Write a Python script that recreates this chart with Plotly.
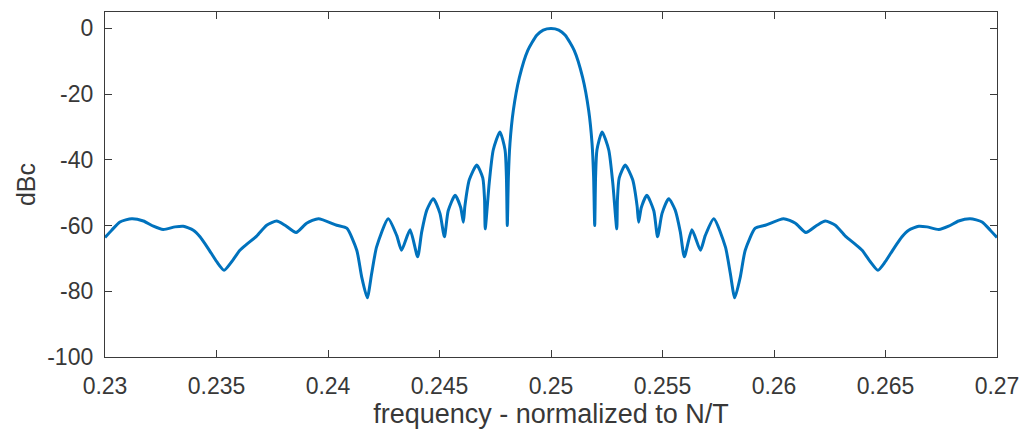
import plotly.graph_objects as go

# frequency (normalized to N/T) and level (dBc)
freq = [
    0.23000, 0.23030, 0.23067, 0.23120, 0.23172, 0.23217, 0.23261, 0.23314, 0.23351, 0.23396,
    0.23426, 0.23463, 0.23501, 0.23534, 0.23568, 0.23605, 0.23635, 0.23680, 0.23725, 0.23770,
    0.23807, 0.23857, 0.23904, 0.23957, 0.24039, 0.24084, 0.24129, 0.24151, 0.24176, 0.24196,
    0.24218, 0.24270, 0.24308, 0.24330, 0.24368, 0.24402, 0.24420, 0.24443, 0.24472, 0.24502,
    0.24522, 0.24539, 0.24570, 0.24595, 0.24607, 0.24614, 0.24634, 0.24667, 0.24694, 0.24702,
    0.24705, 0.24723, 0.24741, 0.24771, 0.24794, 0.24800, 0.24804, 0.24809, 0.24816, 0.24831,
    0.24858, 0.24896, 0.24936, 0.24965, 0.25000,
    0.25035, 0.25064, 0.25104, 0.25142, 0.25169, 0.25184, 0.25191, 0.25196, 0.25200, 0.25206,
    0.25229, 0.25259, 0.25277, 0.25295, 0.25298, 0.25306, 0.25333, 0.25366, 0.25386, 0.25393,
    0.25405, 0.25430, 0.25461, 0.25478, 0.25498, 0.25528, 0.25557, 0.25580, 0.25598, 0.25632,
    0.25670, 0.25692, 0.25730, 0.25782, 0.25804, 0.25824, 0.25849, 0.25871, 0.25916, 0.25961,
    0.26043, 0.26096, 0.26143, 0.26193, 0.26230, 0.26275, 0.26320, 0.26365, 0.26395, 0.26432,
    0.26466, 0.26499, 0.26537, 0.26574, 0.26604, 0.26649, 0.26686, 0.26739, 0.26783, 0.26828,
    0.26880, 0.26933, 0.26970, 0.27000,
]
dbc = [
    -63.6, -61.4, -58.9, -57.9, -58.6, -60.2, -61.2, -60.4, -60.2, -61.4,
    -63.4, -67.0, -71.0, -73.6, -71.0, -67.5, -65.7, -63.2, -59.9, -58.6,
    -59.9, -62.1, -59.3, -57.9, -59.9, -60.8, -67.5, -75.6, -82.0, -74.5,
    -66.5, -57.9, -63.0, -67.5, -61.3, -69.5, -62.0, -55.3, -51.8, -56.3,
    -63.4, -55.5, -50.8, -54.5, -59.0, -54.0, -46.0, -41.6, -45.5, -52.0,
    -61.0, -47.0, -37.0, -31.5, -37.0, -45.0, -60.0, -45.0, -35.0, -25.0,
    -15.0, -6.7, -2.1, -0.5, 0.0,
    -0.5, -2.1, -6.7, -15.0, -25.0, -35.0, -45.0, -60.0, -45.0, -37.0,
    -31.5, -37.0, -47.0, -61.0, -52.0, -45.5, -41.6, -46.0, -54.0, -59.0,
    -54.5, -50.8, -55.5, -63.4, -56.3, -51.8, -55.3, -62.0, -69.5, -61.3,
    -67.5, -63.0, -57.9, -66.5, -74.5, -82.0, -75.6, -67.5, -60.8, -59.9,
    -57.9, -59.3, -62.1, -59.9, -58.6, -59.9, -63.2, -65.7, -67.5, -71.0,
    -73.6, -71.0, -67.0, -63.4, -61.4, -60.2, -60.4, -61.2, -60.2, -58.6,
    -57.9, -58.9, -61.4, -63.6,
]

x_ticks = [0.23, 0.235, 0.24, 0.245, 0.25, 0.255, 0.26, 0.265, 0.27]
x_ticklabels = ["0.23", "0.235", "0.24", "0.245", "0.25", "0.255", "0.26", "0.265", "0.27"]
y_ticks = [-100, -80, -60, -40, -20, 0]
y_ticklabels = ["-100", "-80", "-60", "-40", "-20", "0"]

FONT = "Liberation Sans, Arial, sans-serif"
TXT = "#383838"

fig = go.Figure()
fig.add_trace(go.Scatter(
    x=freq, y=dbc, mode="lines",
    line=dict(color="#0072BD", width=3, shape="spline", smoothing=0.6),
    showlegend=False,
))

axis_common = dict(
    showline=True, linecolor="#3a3a3a", linewidth=1.3, mirror="ticks",
    ticks="inside", ticklen=7, tickcolor="#3a3a3a", tickwidth=1.2,
    showgrid=False, zeroline=False, automargin=False,
    tickfont=dict(family=FONT, size=23, color=TXT),
)

fig.update_layout(
    width=1026, height=440,
    margin=dict(l=105, r=29, t=12, b=83),
    paper_bgcolor="white", plot_bgcolor="white",
    xaxis=dict(
        range=[0.23, 0.27], tickvals=x_ticks, ticktext=x_ticklabels,
        ticklabelstandoff=8,
        title=dict(text="frequency - normalized to N/T",
                   font=dict(family=FONT, size=27, color=TXT),
                   standoff=6),
        **axis_common,
    ),
    yaxis=dict(
        range=[-100, 5], tickvals=y_ticks, ticktext=y_ticklabels,
        ticklabelstandoff=6,
        title=dict(text="dBc",
                   font=dict(family=FONT, size=25, color=TXT),
                   standoff=4),
        **axis_common,
    ),
)

fig.write_html("out.html")
